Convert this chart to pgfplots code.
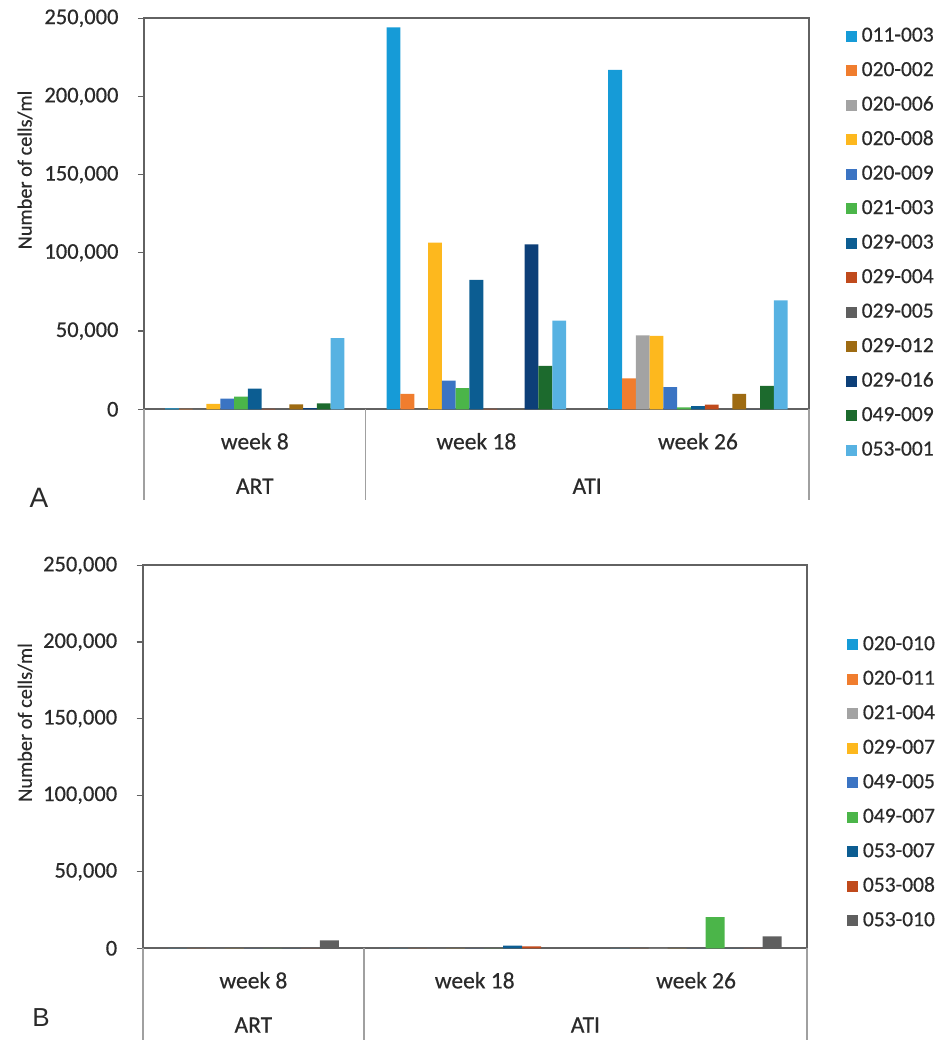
\documentclass[border=0pt]{standalone}
\usepackage{fontspec}
\setmainfont{Carlito}[FakeBold=0.5]
\newfontfamily\arialfont{Liberation Sans}
\usepackage{pgfplots}
\usepackage{pgfplotstable}
\pgfplotsset{compat=1.18}

\definecolor{c1}{HTML}{169BD7}
\definecolor{c2}{HTML}{F07D2E}
\definecolor{c3}{HTML}{A3A3A3}
\definecolor{c4}{HTML}{FDB81E}
\definecolor{c5}{HTML}{3B74C3}
\definecolor{c6}{HTML}{4BB549}
\definecolor{c7}{HTML}{0C5D92}
\definecolor{c8}{HTML}{C04A1C}
\definecolor{c9}{HTML}{5F5F5F}
\definecolor{c10}{HTML}{9E6B12}
\definecolor{c11}{HTML}{0D3F78}
\definecolor{c12}{HTML}{1C6A2D}
\definecolor{c13}{HTML}{57B2E2}
\definecolor{frame}{HTML}{626262}
\definecolor{sep}{HTML}{A0A0A0}
\definecolor{txt}{HTML}{2A2A2A}

\newcommand\fs[1]{\fontsize{#1}{#1}\selectfont}

% Panel A: columns = patients, rows = week 8 (ART), week 18 (ATI), week 26 (ATI)
\pgfplotstableread{
x  s1     s2    s3    s4     s5    s6    s7    s8   s9 s10  s11    s12   s13
0  600    300   0     3400   6800  8100  13200 300  0  3200 700    3800  45500
1  244200 9800  0     106600 18300 13600 82700 300  0  0    105500 27700 56700
2  217000 19800 47300 46900  14100 1300  2100  3000 0  9800 0      14900 69700
}\dataA

% Panel B
\pgfplotstableread{
x  s1 s2 s3  s4 s5 s6    s7   s8   s9
0  0  0  0   0  0  0     0    0    5200
1  0  0  0   0  0  0     1800 1200 0
2  0  0  300 0  0  20400 0    0    7800
}\dataB

\pgfplotsset{
  panel/.style={
    scale only axis,
    ybar=0pt,
    xmin=-0.5, xmax=2.5,
    ymin=0, ymax=250000,
    enlargelimits=false,
    clip=false,
    axis line style={draw=frame, line width=2pt},
    tick align=outside,
    ytick pos=left,
    ytick={0,50000,100000,150000,200000,250000},
    ytick style={draw=frame, line width=1.2pt},
    major tick length=6pt,
    scaled y ticks=false,
    yticklabel style={xshift=-16pt, /pgf/number format/.cd, fixed, 1000 sep={,}, assume math mode=true},
    tick label style={font=\fs{22.5}, text=txt},
    xtick={0,1,2},
    xticklabels={week 8, week 18, week 26},
    xtick style={draw=none},
    xticklabel style={font=\fs{23.5}, anchor=center, yshift=-26pt},
    ylabel={Number of cells/ml},
    ylabel style={font=\fs{20.3}, text=txt, anchor=center},
    legend cell align=left,
    legend image code/.code={\fill[#1] (0pt,-5.5pt) rectangle (11pt,5.5pt);},
    legend style={anchor=north west, draw=none, fill=none, inner sep=0pt, outer sep=0pt,
      font=\fs{21.5}, text=txt, row sep=15.5pt,
      /tikz/every odd column/.append style={column sep=5pt},
      nodes={inner sep=0pt, text height=15pt, text depth=4pt}},
    every axis plot/.append style={draw=none},
  }
}

\begin{document}
\begin{tikzpicture}
\path[use as bounding box] (0pt,0pt) rectangle (950pt,1040pt);

% ---------------- Panel A ----------------
\begin{axis}[panel,
  at={(144pt,630.7pt)}, anchor=south west,
  width=664.7pt, height=391pt,
  bar width=13.8pt,
  ylabel style={at={(axis description cs:-0.179,0.612)}},
  legend style={at={(axis description cs:1.0557,0.9788)}},
]
\addplot[fill=c1]  table[x=x,y=s1]{\dataA};
\addplot[fill=c2]  table[x=x,y=s2]{\dataA};
\addplot[fill=c3]  table[x=x,y=s3]{\dataA};
\addplot[fill=c4]  table[x=x,y=s4]{\dataA};
\addplot[fill=c5]  table[x=x,y=s5]{\dataA};
\addplot[fill=c6]  table[x=x,y=s6]{\dataA};
\addplot[fill=c7]  table[x=x,y=s7]{\dataA};
\addplot[fill=c8]  table[x=x,y=s8]{\dataA};
\addplot[fill=c9]  table[x=x,y=s9]{\dataA};
\addplot[fill=c10] table[x=x,y=s10]{\dataA};
\addplot[fill=c11] table[x=x,y=s11]{\dataA};
\addplot[fill=c12] table[x=x,y=s12]{\dataA};
\addplot[fill=c13] table[x=x,y=s13]{\dataA};
\legend{011-003,020-002,020-006,020-008,020-009,021-003,029-003,029-004,029-005,029-012,029-016,049-009,053-001}
\draw[sep, line width=1.6pt] (axis cs:-0.5,0) -- ++(0pt,-91pt);
\draw[sep, line width=1.6pt] (axis cs:0.5,0) -- ++(0pt,-91pt);
\draw[sep, line width=1.6pt] (axis cs:2.5,0) -- ++(0pt,-91pt);
\node[font=\fs{23.5}, text=txt] at (axis cs:0,0) [yshift=-77pt] {ART};
\node[font=\fs{23.5}, text=txt] at (axis cs:1.5,0) [yshift=-77pt] {ATI};
\end{axis}
\node[font=\arialfont\fs{28}, text=txt] at (39pt,542pt) {A};

% ---------------- Panel B ----------------
\begin{axis}[panel,
  at={(142.7pt,91.7pt)}, anchor=south west,
  width=664pt, height=382.8pt,
  bar width=19pt,
  ylabel style={at={(axis description cs:-0.177,0.59)}},
  legend style={at={(axis description cs:1.0606,0.818)}},
]
\addplot[fill=c1] table[x=x,y=s1]{\dataB};
\addplot[fill=c2] table[x=x,y=s2]{\dataB};
\addplot[fill=c3] table[x=x,y=s3]{\dataB};
\addplot[fill=c4] table[x=x,y=s4]{\dataB};
\addplot[fill=c5] table[x=x,y=s5]{\dataB};
\addplot[fill=c6] table[x=x,y=s6]{\dataB};
\addplot[fill=c7] table[x=x,y=s7]{\dataB};
\addplot[fill=c8] table[x=x,y=s8]{\dataB};
\addplot[fill=c9] table[x=x,y=s9]{\dataB};
\legend{020-010,020-011,021-004,029-007,049-005,049-007,053-007,053-008,053-010}
\draw[sep, line width=1.6pt] (axis cs:-0.5,0) -- ++(0pt,-92pt);
\draw[sep, line width=1.6pt] (axis cs:0.5,0) -- ++(0pt,-92pt);
\draw[sep, line width=1.6pt] (axis cs:2.5,0) -- ++(0pt,-92pt);
\node[font=\fs{23.5}, text=txt] at (axis cs:0,0) [yshift=-76.7pt] {ART};
\node[font=\fs{23.5}, text=txt] at (axis cs:1.5,0) [yshift=-76.7pt] {ATI};
\end{axis}
\node[font=\arialfont\fs{26}, text=txt] at (41pt,22pt) {B};
\end{tikzpicture}
\end{document}
